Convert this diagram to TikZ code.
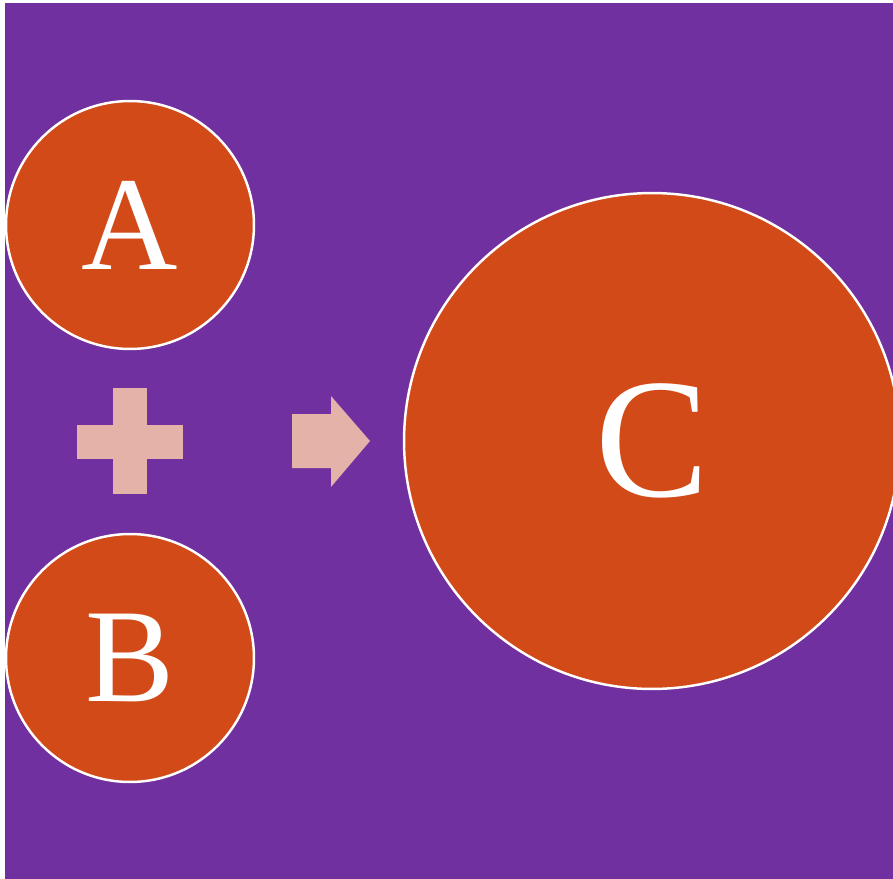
\documentclass[tikz,border=0pt]{standalone}
\usepackage{fontspec}
\setmainfont{Liberation Serif}
\usetikzlibrary{positioning}
\definecolor{bgpurple}{HTML}{7030A0}
\definecolor{ballorange}{HTML}{D24A17}
\definecolor{signpink}{HTML}{E5B2AA}

\begin{document}
\begin{tikzpicture}[
	x=0.02cm, y=-0.02cm,
	ball/.style={
		circle, draw=white, line width=1.4pt, fill=ballorange,
		inner sep=0pt, text=white
	},
	sign/.style={fill=signpink, draw=none}
	]
	
	% canvas and background
	\useasboundingbox (0,0) rectangle (893,879);
	\fill[bgpurple] (5,3) rectangle (893,879);
	
	% the three balls
	\node[ball, minimum size=4.96cm, font=\fontsize{76}{76}\selectfont] (a) at (130,225) {A};
	\node[ball, minimum size=4.96cm, font=\fontsize{76}{76}\selectfont] (b) at (130,658) {B};
	\node[ball, minimum size=9.92cm, font=\fontsize{97}{97}\selectfont] (c) at (652,441) {C};
	
	% plus sign
	\fill[sign] (77,425) rectangle (183,459);
	\fill[sign] (113,388) rectangle (147,494);
	
	% block arrow
	\fill[sign] (292,414) -- (331,414) -- (331,396) -- (370,441)
		-- (331,487) -- (331,468) -- (292,468) -- cycle;
\end{tikzpicture}
\end{document}
